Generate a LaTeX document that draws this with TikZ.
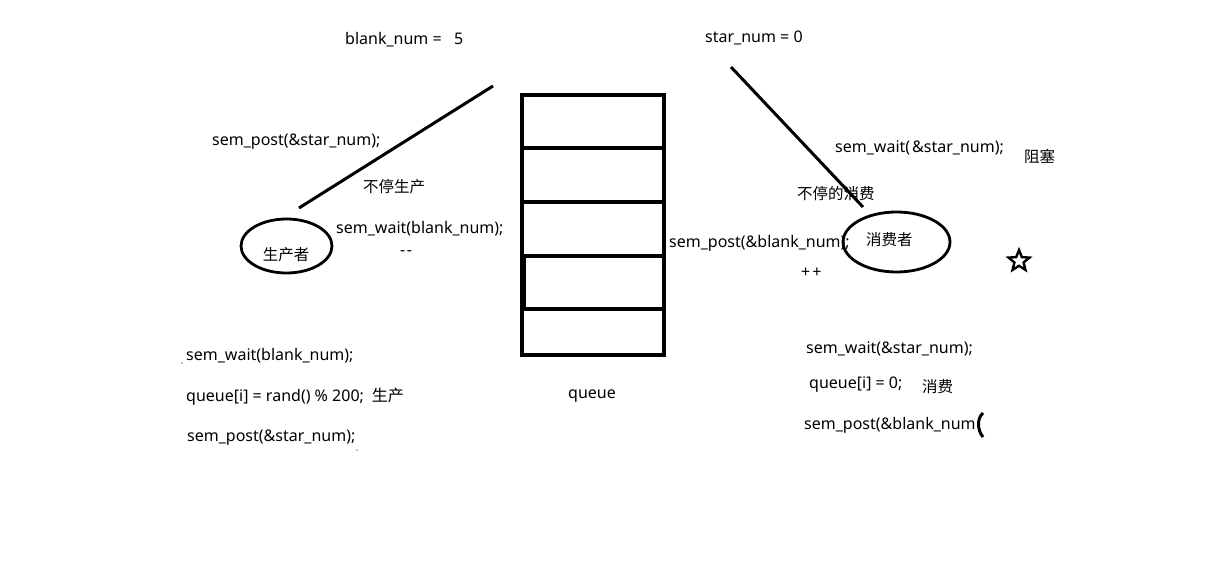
\documentclass[tikz,border=0pt]{standalone}
\usepackage{fontspec}
\setmainfont{Noto Sans}
\newfontfamily\cjk{Noto Sans CJK SC}
\usetikzlibrary{shapes.geometric}
\begin{document}
\begin{tikzpicture}[x=1pt,y=-1pt,
  lbl/.style={anchor=west,inner sep=0pt,yshift=-2pt,font=\fontsize{16}{18}\selectfont},
  clbl/.style={anchor=west,inner sep=0pt,yshift=-1.5pt,font=\fontsize{15.5}{18}\selectfont\cjk},
  thick line/.style={line width=3pt},
  boxline/.style={line width=3.2pt}]
\useasboundingbox (0,0) rectangle (1208,588);
% queue
\draw[boxline] (522,95) rectangle (664,355);
\draw[boxline] (522,148) -- (664,148);
\draw[boxline] (522,202) -- (664,202);
\draw[boxline] (522,256) -- (664,256);
\draw[boxline] (522,309) -- (664,309);
\draw[boxline] (524.5,256) -- (524.5,309);
\node[lbl] (q) at (568,394) {queue};
% top labels
\node[lbl] (bn) at (345,38) {blank\_num =\ \ \ 5};
\node[lbl] (sn) at (705,36) {star\_num = 0};
% diagonals
\coordinate (l1) at (493,86);
\coordinate (l2) at (299,208);
\draw[thick line] (l1) -- (l2);
\coordinate (r1) at (731,67);
\coordinate (r2) at (863,207);
\draw[thick line] (r1) -- (r2);
% producer
\node[draw,ellipse,line width=2.8pt,minimum width=91pt,minimum height=54pt,inner sep=0pt] (prod) at (286.5,246) {};
\node[clbl,anchor=center] (prodt) at (286,253) {生产者};
\node[lbl] (p1) at (212,140) {sem\_post(\&star\_num);};
\node[clbl] (p2) at (363,185) {不停生产};
\node[lbl] (p3) at (336,227) {sem\_wait(blank\_num);};
\node[lbl] (p4) at (400,251) {-\kern1.5pt-};
% consumer
\node[draw,ellipse,line width=2.8pt,minimum width=107pt,minimum height=60pt,inner sep=0pt] (cons) at (896.5,242) {};
\node[clbl] (const) at (866,238) {消费者};
\node[lbl] (c1) at (835,146) {sem\_wait(\kern2pt\&star\_num);};
\node[clbl] (c2) at (1024,155) {阻塞};
\node[clbl] (c3) at (797,192) {不停的消费};
\node[lbl] (c4) at (669,241) {sem\_post(\&blank\_num);};
\node[lbl] (c5) at (801,271) {+\kern2pt+};
% star
\node[draw,star,star points=5,star point ratio=2.3,line width=2.4pt,minimum size=22pt,inner sep=0pt] (st) at (1019,261) {};
% producer code
\node[lbl] (pc1) at (186,354) {sem\_wait(blank\_num);};
\node[lbl] (pc2) at (186,395) {queue[i] = rand() \% 200;\kern8pt{\cjk 生产}};
\node[lbl] (pc3) at (187,436) {sem\_post(\&star\_num);};
\fill (182,363) circle (0.6pt);
\fill (357,450) circle (0.6pt);
% consumer code
\node[lbl] (cc1) at (806,347) {sem\_wait(\&star\_num);};
\node[lbl] (cc2) at (809,383) {queue[i] = 0;};
\node[clbl] (cc3) at (922,385) {消费};
\node[lbl] (cc4) at (804,423) {sem\_post(\&blank\_num};
\coordinate (b1) at (983,413);
\coordinate (b2) at (983,437);
\draw[line width=3pt] (b1) .. controls (977,418) and (977,430) .. (b2);
\end{tikzpicture}
\end{document}
